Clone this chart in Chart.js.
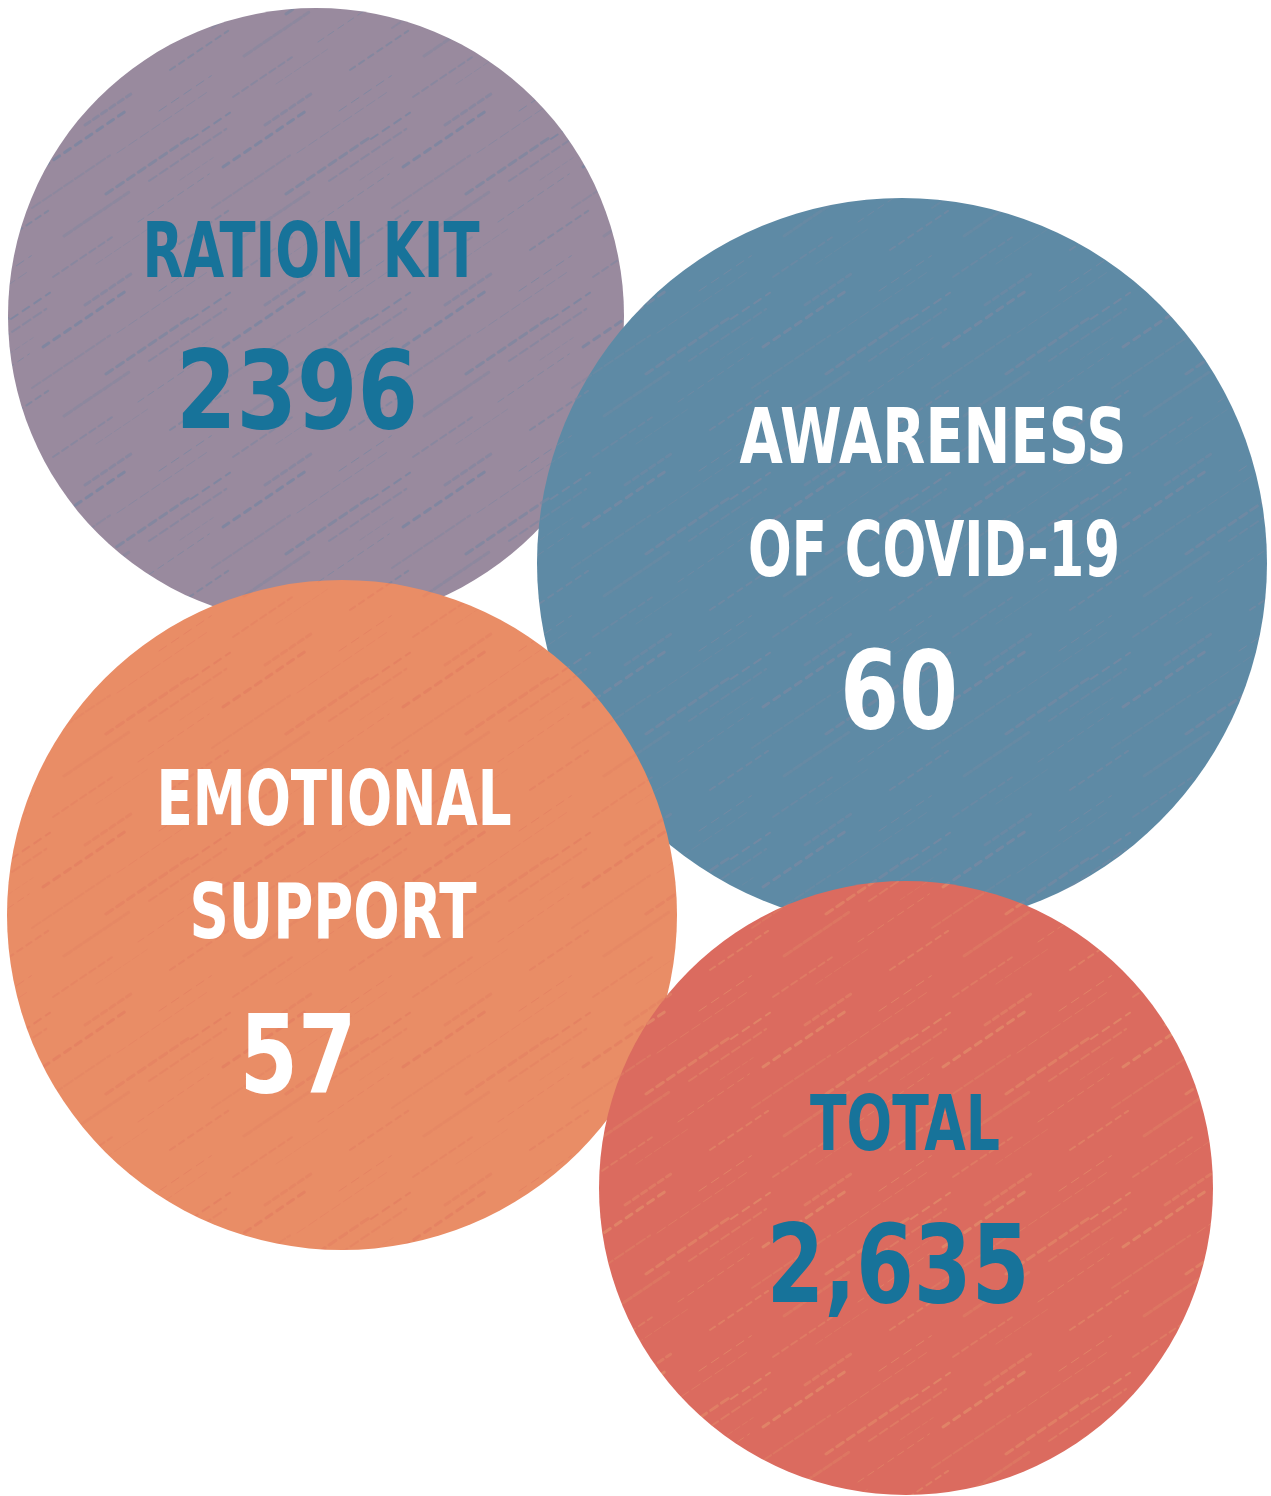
<!DOCTYPE html>
<html>
<head>
<meta charset="utf-8">
<script src="https://cdn.jsdelivr.net/npm/chart.js@4"></script>
<style>
  html, body { margin: 0; padding: 0; background: #ffffff; }
  #wrap { width: 1271px; height: 1496px; }
</style>
</head>
<body>
<div id="wrap"><canvas id="bubbleChart" width="1271" height="1496"></canvas></div>
<script>
// data
const categories = ['RATION KIT', 'AWARENESS OF COVID-19', 'EMOTIONAL SUPPORT', 'TOTAL'];
const labelLines = [['RATION KIT'], ['AWARENESS', 'OF COVID-19'], ['EMOTIONAL', 'SUPPORT'], ['TOTAL']];
const values = [2396, 60, 57, 2635];
const valueLabels = ['2396', '60', '57', '2,635'];

// layout (page pixels)
const centers = [[316, 316], [902, 563], [342, 915], [906, 1188]];
const radii = [308, 365, 335, 307];
const fills = ['#998a9e', '#5e8aa5', '#e98d66', '#db6b5f'];
const streakColors = ['#3d7ea6', '#a98a9f', '#d9675a', '#f2c47c'];
const textColors = ['#17739a', '#ffffff', '#ffffff', '#17739a'];
// text anchors relative to circle centre: [dx, baselineDy, width]
const lineAnchors = [
  [[-5, -39, 337]],
  [[31, -100, 387], [32, 13, 372]],
  [[-8, -90, 355], [-9, 23, 287]],
  [[-1, -38, 190]]
];
const valueAnchors = [[-19, 112, 242], [-3, 165, 118], [-44, 177, 117], [-8, 114, 263]];

// crayon-like diagonal streaks, tiled
function makePattern(base, streak) {
  const size = 180;
  const c = document.createElement('canvas');
  c.width = size; c.height = size;
  const g = c.getContext('2d');
  g.fillStyle = base;
  g.fillRect(0, 0, size, size);
  g.strokeStyle = streak;
  g.lineCap = 'round';
  for (let k = 0; k < 14; k++) {
    const x = (k * 53) % size;
    const y = (k * 97) % size;
    const len = 40 + (k * 31) % 70;
    g.globalAlpha = 0.12 + (k % 4) * 0.05;
    g.lineWidth = 1 + (k % 3);
    g.setLineDash([6 + k % 5, 3 + k % 4]);
    for (let ox = -size; ox <= size; ox += size) {
      for (let oy = -size; oy <= size; oy += size) {
        g.beginPath();
        g.moveTo(x + ox, y + oy);
        g.lineTo(x + ox + len * 0.83, y + oy - len * 0.56);
        g.stroke();
      }
    }
  }
  return g.createPattern(c, 'repeat');
}

const textPlugin = {
  id: 'bubbleText',
  afterDatasetsDraw(chart) {
    const ctx = chart.ctx;
    const meta = chart.getDatasetMeta(0);
    ctx.save();
    ctx.textAlign = 'center';
    ctx.textBaseline = 'alphabetic';
    meta.data.forEach((el, i) => {
      ctx.fillStyle = textColors[i];
      ctx.font = 'bold 76px "DejaVu Sans Condensed", "DejaVu Sans", sans-serif';
      labelLines[i].forEach((line, j) => {
        const a = lineAnchors[i][j];
        ctx.fillText(line, el.x + a[0], el.y + a[1], a[2]);
      });
      ctx.font = 'bold 108px "DejaVu Sans Condensed", "DejaVu Sans", sans-serif';
      const v = valueAnchors[i];
      ctx.fillText(valueLabels[i], el.x + v[0], el.y + v[1], v[2]);
    });
    ctx.restore();
  }
};

new Chart('bubbleChart', {
  type: 'bubble',
  data: {
    labels: categories,
    datasets: [{
      data: values.map((v, i) => ({ x: centers[i][0], y: centers[i][1], r: radii[i], v: v })),
      backgroundColor: fills.map((f, i) => makePattern(f, streakColors[i])),
      borderWidth: 0,
      hoverRadius: 0,
      clip: false
    }]
  },
  options: {
    responsive: false,
    animation: false,
    layout: { padding: 0, autoPadding: false },
    scales: {
      x: { type: 'linear', min: 0, max: 1271, display: false },
      y: { type: 'linear', min: 0, max: 1496, reverse: true, display: false }
    },
    plugins: {
      legend: { display: false },
      tooltip: { enabled: false }
    }
  },
  plugins: [textPlugin]
});
</script>
</body>
</html>
